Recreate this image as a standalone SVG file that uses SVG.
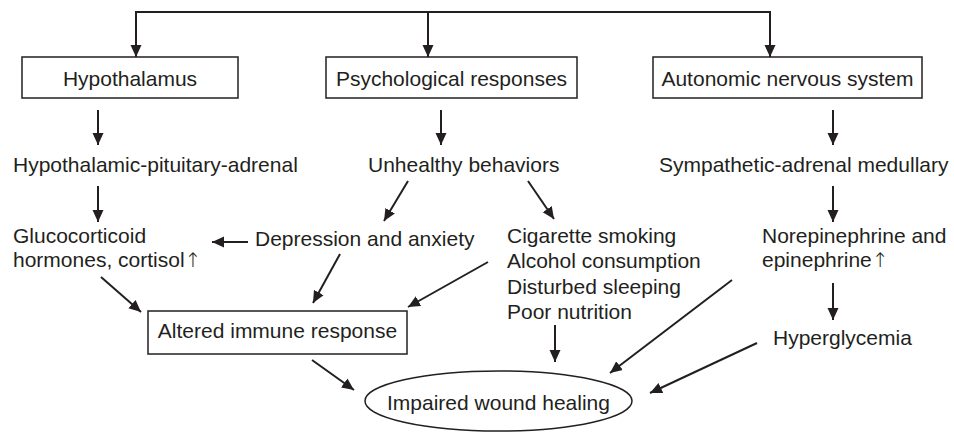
<svg xmlns="http://www.w3.org/2000/svg" width="954" height="432" viewBox="0 0 954 432">
<defs>
<marker id="ah" markerUnits="userSpaceOnUse" markerWidth="12" markerHeight="12" viewBox="0 0 12 12" refX="12" refY="6" orient="auto">
<path d="M0,0.5 L12,6 L0,11.5 z" fill="#231f20"/>
</marker>
<style>
text{font-family:"Liberation Sans",Arial,Helvetica,sans-serif;font-size:21px;fill:#231f20}
.up{font-family:"DejaVu Sans",sans-serif;font-weight:200;font-size:20px}
.box{fill:#fff;stroke:#231f20;stroke-width:1.5}
.c line{stroke:#231f20;stroke-width:2}
.c .a{marker-end:url(#ah)}
</style>
</defs>
<rect width="954" height="432" fill="#fff"/>
<g class="c" id="connectors">
<line x1="135" y1="12" x2="771" y2="12"/>
<line class="a" x1="136" y1="12" x2="136" y2="57"/>
<line class="a" x1="428" y1="12" x2="428" y2="57"/>
<line class="a" x1="770" y1="12" x2="770" y2="57"/>
<line class="a" x1="98" y1="110" x2="98" y2="145"/>
<line class="a" x1="441" y1="110" x2="441" y2="145"/>
<line class="a" x1="833" y1="110" x2="833" y2="145"/>
<line class="a" x1="98" y1="186" x2="98" y2="222"/>
<line class="a" x1="833" y1="186" x2="833" y2="222"/>
<line class="a" x1="408" y1="181" x2="384" y2="221"/>
<line class="a" x1="528" y1="181" x2="554" y2="219"/>
<line class="a" x1="248" y1="242" x2="212" y2="242"/>
<line class="a" x1="101" y1="277" x2="141" y2="312"/>
<line class="a" x1="340" y1="254" x2="313" y2="303"/>
<line class="a" x1="488" y1="262" x2="408" y2="307"/>
<line class="a" x1="312" y1="360" x2="354" y2="390"/>
<line class="a" x1="555" y1="325" x2="555" y2="362"/>
<line class="a" x1="732" y1="280" x2="610" y2="373"/>
<line class="a" x1="757" y1="343" x2="650" y2="393"/>
<line class="a" x1="833" y1="283" x2="833" y2="320"/>
</g>
<g id="hypothalamus">
<rect class="box" x="22" y="57" width="216" height="41"/>
<text x="130" y="86" text-anchor="middle">Hypothalamus</text>
</g>
<g id="psychological">
<rect class="box" x="326" y="57" width="251" height="41"/>
<text x="451.5" y="86" text-anchor="middle">Psychological responses</text>
</g>
<g id="autonomic">
<rect class="box" x="653" y="57" width="269" height="41"/>
<text x="787.5" y="86" text-anchor="middle">Autonomic nervous system</text>
</g>
<g id="hpa">
<text x="13" y="172">Hypothalamic-pituitary-adrenal</text>
</g>
<g id="unhealthy">
<text x="368" y="172">Unhealthy behaviors</text>
</g>
<g id="sam">
<text x="659" y="172">Sympathetic-adrenal medullary</text>
</g>
<g id="glucocorticoid">
<text x="13" y="243">Glucocorticoid</text>
<text x="13" y="267">hormones, cortisol<tspan class="up">↑</tspan></text>
</g>
<g id="depression">
<text x="255" y="246">Depression and anxiety</text>
</g>
<g id="behaviors">
<text x="507" y="243">Cigarette smoking</text>
<text x="507" y="268">Alcohol consumption</text>
<text x="507" y="294">Disturbed sleeping</text>
<text x="507" y="319">Poor nutrition</text>
</g>
<g id="norepinephrine">
<text x="762" y="243">Norepinephrine and</text>
<text x="762" y="267">epinephrine<tspan class="up">↑</tspan></text>
</g>
<g id="hyperglycemia">
<text x="773" y="345">Hyperglycemia</text>
</g>
<g id="altered">
<rect class="box" x="148" y="311" width="259" height="43"/>
<text x="277.5" y="338" text-anchor="middle">Altered immune response</text>
</g>
<g id="impaired">
<ellipse class="box" cx="498.5" cy="401" rx="133.5" ry="30"/>
<text x="498.5" y="410" text-anchor="middle">Impaired wound healing</text>
</g>
</svg>
